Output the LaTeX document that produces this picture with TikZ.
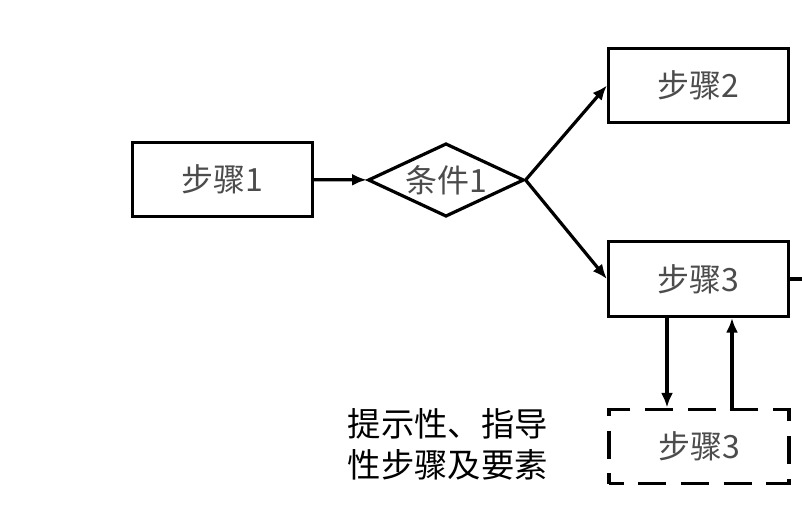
\documentclass[tikz,border=0pt]{standalone}
\usepackage{fontspec}
\newfontfamily\cjk{Noto Sans CJK SC}
\usetikzlibrary{shapes.geometric,arrows.meta,calc}
\tikzset{%
  stepbox/.style  = {shape=rectangle, draw, line width=2.4pt,%
                     minimum width=135pt, minimum height=56pt,%
                     font=\cjk\fontsize{24}{28}\selectfont, text=black!70},%
  hintbox/.style  = {stepbox, dashed, dash pattern=on 21pt off 11pt, dash phase=10pt},%
  cond/.style     = {shape=diamond, aspect=2.13, draw, line width=2.4pt, inner sep=0pt,%
                     minimum width=117pt, minimum height=55pt,%
                     font=\cjk\fontsize{24}{28}\selectfont, text=black!70},%
  flow/.style     = {line width=2.4pt, -{Latex[length=11pt,width=9pt]}}%
}
\begin{document}
\begin{tikzpicture}[x=0.75pt,y=-0.75pt]
	\useasboundingbox (0,0) rectangle (802,509);
	\node [stepbox] (s1) at (222.5,179.5) {步骤1};
	\node [cond] (c1) at (446,180) {条件1};
	\node [stepbox] (s2) at (698.5,85.5) {步骤2};
	\node [stepbox] (s3) at (698.5,279) {步骤3};
	\node [hintbox] (s3h) at (699,446.5) {步骤3};
	\node [anchor=west, align=left, font=\cjk\fontsize{25}{31}\selectfont] (hint) at (343,444) {提示性、指导\\性步骤及要素};
	\coordinate (out) at (802,279);
	\draw [flow] (s1) -- (c1);
	\draw [flow] (c1.east) -- (s2.west);
	\draw [flow] (c1.east) -- (s3.west);
	\draw [flow] ($(s3.south)+(-31.5,0)$) -- ($(s3h.north)+(-32,0)$);
	\draw [flow] ($(s3h.north)+(33,0)$) -- ($(s3.south)+(33.5,0)$);
	\draw [line width=2.4pt] (s3.east) -- (out);
\end{tikzpicture}
\end{document}
